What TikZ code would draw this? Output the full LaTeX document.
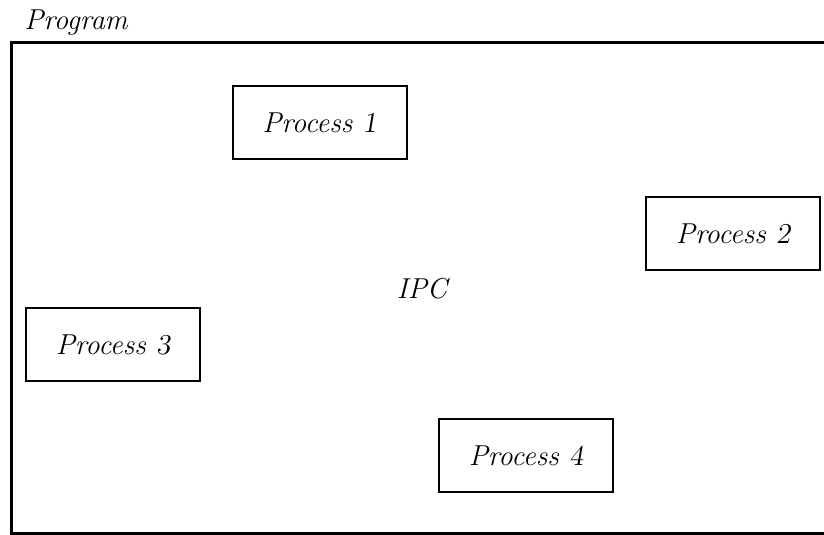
\documentclass[tikz,border=0pt]{standalone}
\newcommand{\cmit}{\fontencoding{OT1}\fontfamily{cmr}\fontsize{15.2}{18}\selectfont\itshape}
\newcommand{\dg}[1]{{\slshape #1}}
\begin{document}
\begin{tikzpicture}[x=0.5pt,y=-0.5pt,
  proc/.style={draw,line width=1pt,minimum width=87pt,minimum height=36.5pt,inner sep=0pt,font=\cmit},
  lbl/.style={inner sep=0pt,font=\cmit}]
\useasboundingbox (0,0) rectangle (824,535);
\begin{scope}
\clip (0,0) rectangle (824,535);
\draw[line width=1.5pt] (840,43) -- (11,43) -- (11,533) -- (840,533);
\end{scope}
\node[lbl,anchor=west] (prog) at (24,22) {Program};
\node[proc] (p1) at (319.5,122.5) {Process \dg{1}};
\node[proc] (p2) at (733,233.5) {Process \dg{2}};
\node[proc] (p3) at (113,344.5) {Process \dg{3}};
\node[proc] (p4) at (526,455.5) {Process \dg{4}};
\node[lbl] (ipc) at (422,289) {IPC};
\end{tikzpicture}
\end{document}
